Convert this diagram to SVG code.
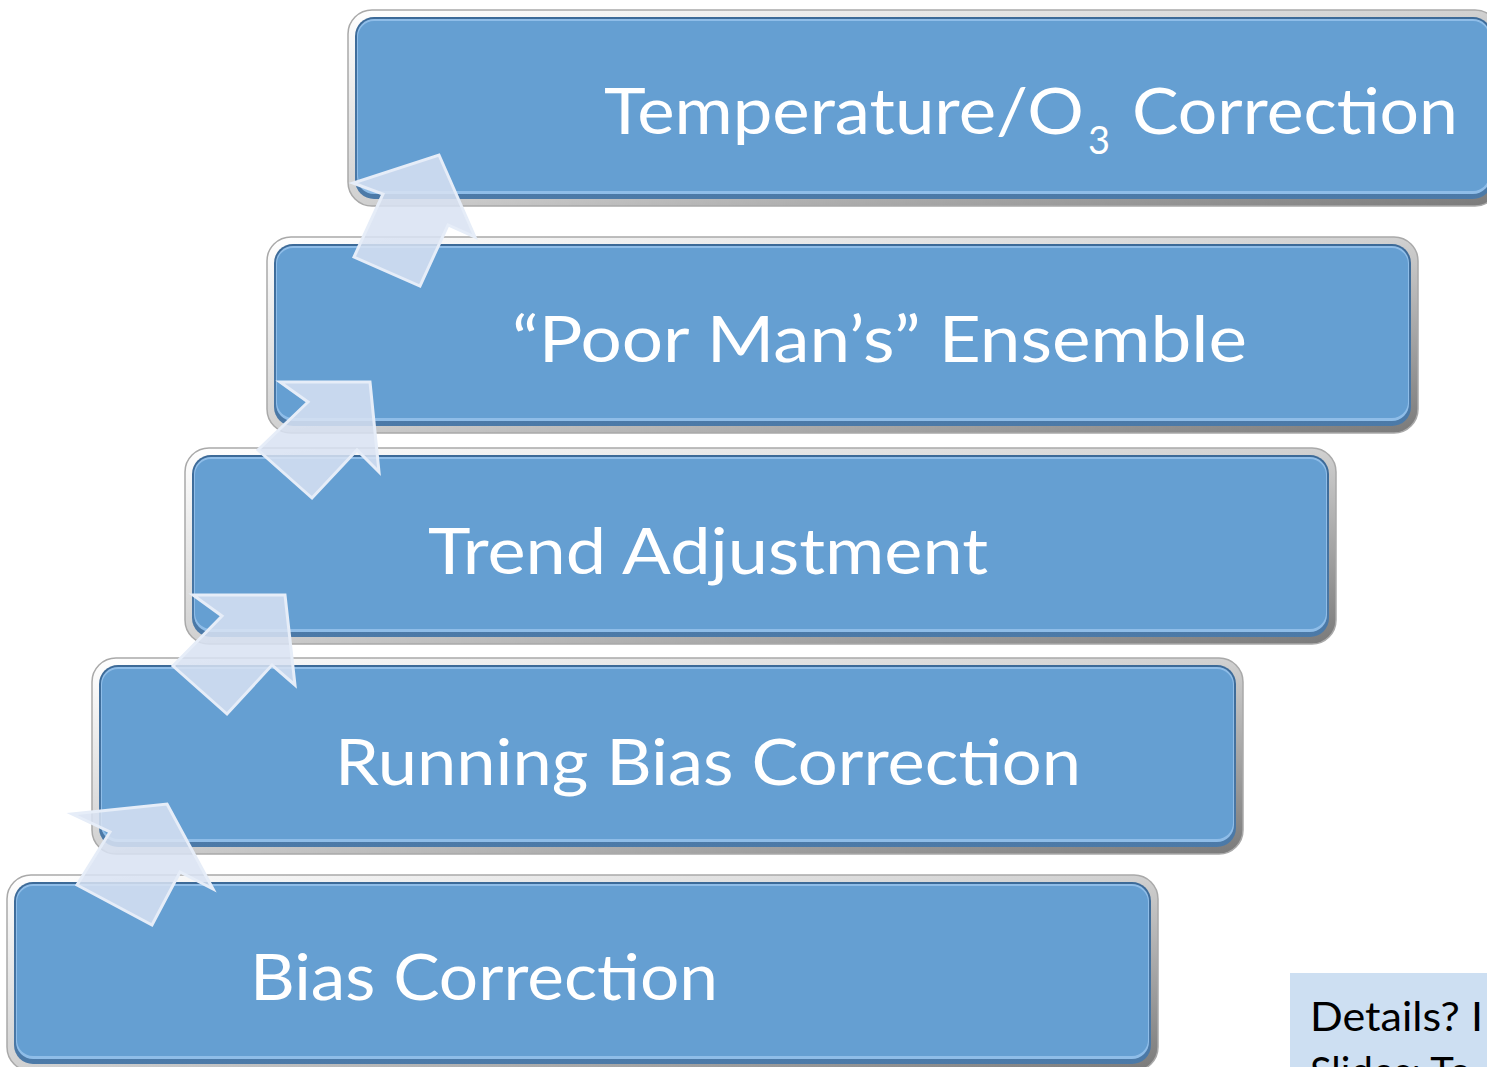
<svg xmlns="http://www.w3.org/2000/svg" xmlns:xlink="http://www.w3.org/1999/xlink" width="1487" height="1067" viewBox="0 0 1487 1067">
<style>
.lbl{font-family:Lato,"Open Sans","Liberation Sans",sans-serif;font-size:64px;fill:#ffffff}
.note{font-family:Lato,"Open Sans","Liberation Sans",sans-serif;font-size:40px;fill:#000000}
.arr{fill:#d8e2f2;fill-opacity:0.86;stroke:#e6edf8;stroke-width:3;stroke-linejoin:miter}
</style>
<defs>
<linearGradient id="bezel" x1="0" y1="0" x2="1" y2="1">
<stop offset="0" stop-color="#ffffff"/>
<stop offset="0.5" stop-color="#d0d0d0"/>
<stop offset="1" stop-color="#7a7a7a"/>
</linearGradient>
<linearGradient id="edge" x1="0" y1="0" x2="0" y2="1">
<stop offset="0" stop-color="#3c6a98"/>
<stop offset="1" stop-color="#4c7aa8"/>
</linearGradient>
<g id="box">
<rect x="0" y="0" width="1151" height="196" rx="24" fill="url(#bezel)" stroke="#a9a9a9" stroke-width="1.5"/>
<rect x="7" y="7" width="1137" height="182" rx="19" fill="url(#edge)"/>
<rect x="9" y="9" width="1133" height="175" rx="17" fill="#8fbde8"/>
<rect x="10" y="11" width="1131" height="170" rx="16" fill="#659fd2"/>
</g>
</defs>
<rect width="1487" height="1067" fill="#ffffff"/>
<g id="node-temperature">
<use xlink:href="#box" href="#box" x="348" y="10"/>
<text class="lbl" x="604" y="134" textLength="480" lengthAdjust="spacingAndGlyphs">Temperature/O</text>
<text class="lbl" x="1088" y="154" style="font-size:38px" textLength="22" lengthAdjust="spacingAndGlyphs">3</text>
<text class="lbl" x="1132" y="134" textLength="326" lengthAdjust="spacingAndGlyphs">Correction</text>
</g>
<g id="node-ensemble">
<use xlink:href="#box" href="#box" x="267" y="237"/>
<text class="lbl" x="512" y="362" textLength="735" lengthAdjust="spacingAndGlyphs">“Poor Man’s” Ensemble</text>
</g>
<g id="node-trend">
<use xlink:href="#box" href="#box" x="185" y="448"/>
<text class="lbl" x="428" y="574" textLength="560" lengthAdjust="spacingAndGlyphs">Trend Adjustment</text>
</g>
<g id="node-running">
<use xlink:href="#box" href="#box" x="92" y="658"/>
<text class="lbl" x="335" y="785" textLength="746" lengthAdjust="spacingAndGlyphs">Running Bias Correction</text>
</g>
<g id="node-bias">
<use xlink:href="#box" href="#box" x="7" y="875"/>
<text class="lbl" x="250" y="1000" textLength="468" lengthAdjust="spacingAndGlyphs">Bias Correction</text>
</g>
<g id="node-details">
<rect x="1290" y="973" width="200" height="100" fill="#cddff2"/>
<text class="note" x="1310" y="1031" textLength="173" lengthAdjust="spacingAndGlyphs">Details? I</text>
<text class="note" x="1310" y="1086">Slides: To</text>
</g>
<g id="connectors">
<polygon class="arr" points="167,804 213,889 180,872 152,925 77,885 110,832 72,814"/>
<polygon class="arr" points="285,595 295,685 272,665 227,714 173,666 222,616 193,595"/>
<polygon class="arr" points="370,382 379,472 357,450 312,498 258,450 308,402 280,382"/>
<polygon class="arr" points="439,155 475,237 448,225 420,286 354,257 383,194 353,183"/>
</g>
</svg>
